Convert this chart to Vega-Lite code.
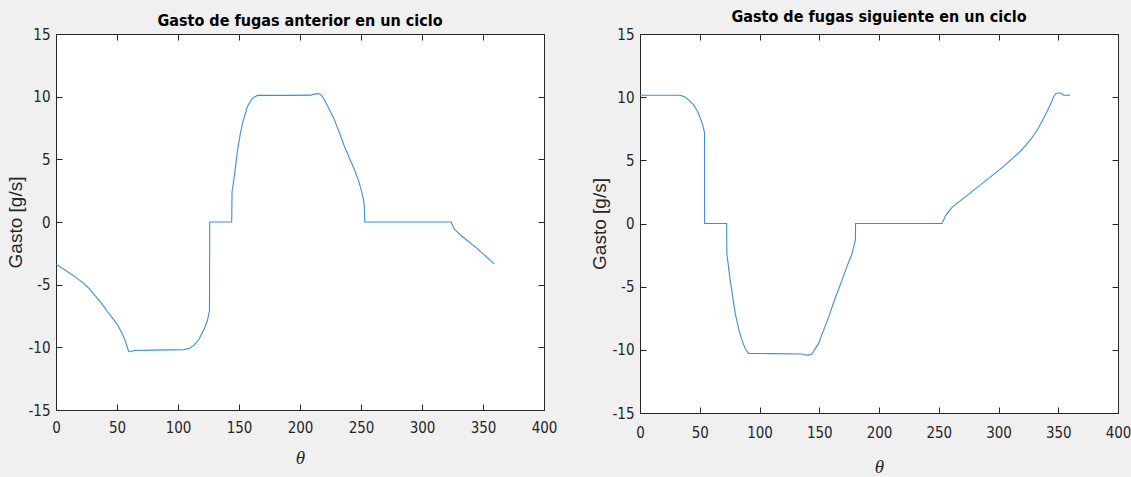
{
  "$schema": "https://vega.github.io/schema/vega-lite/v6.json",
  "background": "#f0f0f0",
  "padding": {"left": 6, "top": 8, "right": 0, "bottom": 20},
  "spacing": 32,
  "datasets": {
    "anterior": [
      {"theta": 0, "gasto": -3.36}, {"theta": 8, "gasto": -3.87}, {"theta": 16, "gasto": -4.4},
      {"theta": 23, "gasto": -4.92}, {"theta": 27, "gasto": -5.3}, {"theta": 31, "gasto": -5.75},
      {"theta": 37, "gasto": -6.45}, {"theta": 42, "gasto": -7.12},
      {"theta": 47, "gasto": -7.75}, {"theta": 50.5, "gasto": -8.22}, {"theta": 54, "gasto": -8.85},
      {"theta": 56, "gasto": -9.29}, {"theta": 58, "gasto": -9.85}, {"theta": 59.6, "gasto": -10.33},
      {"theta": 61, "gasto": -10.35}, {"theta": 64, "gasto": -10.25}, {"theta": 80, "gasto": -10.22},
      {"theta": 105, "gasto": -10.18}, {"theta": 110, "gasto": -10.05}, {"theta": 113.4, "gasto": -9.81},
      {"theta": 117, "gasto": -9.4}, {"theta": 121.6, "gasto": -8.49}, {"theta": 124, "gasto": -7.9},
      {"theta": 125.8, "gasto": -7.1}, {"theta": 126, "gasto": 0}, {"theta": 144, "gasto": 0},
      {"theta": 144.3, "gasto": 2.4}, {"theta": 146.2, "gasto": 3.68}, {"theta": 148.9, "gasto": 5.79},
      {"theta": 151, "gasto": 7.0}, {"theta": 153, "gasto": 7.91}, {"theta": 157, "gasto": 9.24},
      {"theta": 160, "gasto": 9.75}, {"theta": 162.5, "gasto": 9.98}, {"theta": 165.3, "gasto": 10.1},
      {"theta": 190, "gasto": 10.1}, {"theta": 209, "gasto": 10.12}, {"theta": 211.7, "gasto": 10.22},
      {"theta": 215.8, "gasto": 10.22}, {"theta": 218, "gasto": 10.05}, {"theta": 219.9, "gasto": 9.76},
      {"theta": 224, "gasto": 9.0}, {"theta": 228.1, "gasto": 8.17}, {"theta": 232, "gasto": 7.2},
      {"theta": 236.3, "gasto": 6.06}, {"theta": 240, "gasto": 5.2}, {"theta": 244.5, "gasto": 4.21},
      {"theta": 248, "gasto": 3.3}, {"theta": 250, "gasto": 2.63}, {"theta": 252, "gasto": 1.8},
      {"theta": 252.7, "gasto": 1.32}, {"theta": 253, "gasto": 0}, {"theta": 323.8, "gasto": 0},
      {"theta": 326.5, "gasto": -0.56}, {"theta": 332, "gasto": -1.08}, {"theta": 345.6, "gasto": -2.14},
      {"theta": 359.3, "gasto": -3.36}
    ],
    "siguiente": [
      {"theta": 0, "gasto": 10.15}, {"theta": 33.7, "gasto": 10.15}, {"theta": 38, "gasto": 10.0},
      {"theta": 44.8, "gasto": 9.41}, {"theta": 48, "gasto": 8.9}, {"theta": 50.4, "gasto": 8.36},
      {"theta": 52.5, "gasto": 7.8}, {"theta": 54, "gasto": 7.18}, {"theta": 54.1, "gasto": 0},
      {"theta": 72.5, "gasto": 0}, {"theta": 72.7, "gasto": -2.4}, {"theta": 75.5, "gasto": -4.5},
      {"theta": 79.7, "gasto": -7.13}, {"theta": 83, "gasto": -8.5}, {"theta": 85.3, "gasto": -9.23},
      {"theta": 88, "gasto": -9.9}, {"theta": 90.9, "gasto": -10.28}, {"theta": 110, "gasto": -10.3},
      {"theta": 135.5, "gasto": -10.33}, {"theta": 138.4, "gasto": -10.41}, {"theta": 141, "gasto": -10.42},
      {"theta": 143.9, "gasto": -10.33}, {"theta": 146, "gasto": -10.0}, {"theta": 149.5, "gasto": -9.49},
      {"theta": 153, "gasto": -8.6}, {"theta": 157.9, "gasto": -7.39}, {"theta": 163, "gasto": -6.0},
      {"theta": 169, "gasto": -4.5}, {"theta": 174, "gasto": -3.2}, {"theta": 177.4, "gasto": -2.4},
      {"theta": 179.5, "gasto": -1.6}, {"theta": 180.2, "gasto": -1.35}, {"theta": 180.4, "gasto": 0},
      {"theta": 252.8, "gasto": 0}, {"theta": 255.6, "gasto": 0.61}, {"theta": 261.1, "gasto": 1.28},
      {"theta": 275.1, "gasto": 2.32}, {"theta": 289.1, "gasto": 3.37}, {"theta": 303, "gasto": 4.42},
      {"theta": 317, "gasto": 5.6}, {"theta": 323, "gasto": 6.2}, {"theta": 328.1, "gasto": 6.79},
      {"theta": 333, "gasto": 7.5}, {"theta": 336.5, "gasto": 8.1}, {"theta": 340, "gasto": 8.75},
      {"theta": 343.5, "gasto": 9.41}, {"theta": 346, "gasto": 10.0}, {"theta": 347.7, "gasto": 10.28},
      {"theta": 350, "gasto": 10.33}, {"theta": 351.9, "gasto": 10.33}, {"theta": 354.7, "gasto": 10.15},
      {"theta": 360, "gasto": 10.15}
    ]
  },
  "hconcat": [
    {
      "width": 488,
      "height": 376,
      "title": {"text": "Gasto de fugas anterior en un ciclo", "offset": -2},
      "data": {"name": "anterior"},
      "resolve": {"axis": {"x": "independent", "y": "independent"}},
      "layer": [
        {
          "mark": {"type": "line", "color": "#3a90d4", "strokeWidth": 1.1},
          "encoding": {
            "x": {"field": "theta", "type": "quantitative", "scale": {"domain": [0, 400], "nice": false},
                  "axis": {"orient": "bottom", "values": [0, 50, 100, 150, 200, 250, 300, 350, 400], "title": "θ", "labelPadding": 16, "titlePadding": 13}},
            "y": {"field": "gasto", "type": "quantitative", "scale": {"domain": [-15, 15], "nice": false},
                  "axis": {"orient": "left", "values": [-15, -10, -5, 0, 5, 10, 15], "title": "Gasto [g/s]"}}
          }
        },
        {
          "mark": {"type": "line", "strokeOpacity": 0},
          "encoding": {
            "x": {"field": "theta", "type": "quantitative", "scale": {"domain": [0, 400], "nice": false},
                  "axis": {"orient": "top", "values": [0, 50, 100, 150, 200, 250, 300, 350, 400], "labels": false, "title": null}},
            "y": {"field": "gasto", "type": "quantitative", "scale": {"domain": [-15, 15], "nice": false},
                  "axis": {"orient": "right", "values": [-15, -10, -5, 0, 5, 10, 15], "labels": false, "title": null}}
          }
        }
      ]
    },
    {
      "width": 478,
      "height": 379,
      "title": {"text": "Gasto de fugas siguiente en un ciclo", "offset": 2},
      "data": {"name": "siguiente"},
      "resolve": {"axis": {"x": "independent", "y": "independent"}},
      "layer": [
        {
          "mark": {"type": "line", "color": "#3a90d4", "strokeWidth": 1.1},
          "encoding": {
            "x": {"field": "theta", "type": "quantitative", "scale": {"domain": [0, 400], "nice": false},
                  "axis": {"orient": "bottom", "values": [0, 50, 100, 150, 200, 250, 300, 350, 400], "title": "θ", "labelPadding": 18, "titlePadding": 17}},
            "y": {"field": "gasto", "type": "quantitative", "scale": {"domain": [-15, 15], "nice": false},
                  "axis": {"orient": "left", "values": [-15, -10, -5, 0, 5, 10, 15], "title": "Gasto [g/s]"}}
          }
        },
        {
          "mark": {"type": "line", "strokeOpacity": 0},
          "encoding": {
            "x": {"field": "theta", "type": "quantitative", "scale": {"domain": [0, 400], "nice": false},
                  "axis": {"orient": "top", "values": [0, 50, 100, 150, 200, 250, 300, 350, 400], "labels": false, "title": null}},
            "y": {"field": "gasto", "type": "quantitative", "scale": {"domain": [-15, 15], "nice": false},
                  "axis": {"orient": "right", "values": [-15, -10, -5, 0, 5, 10, 15], "labels": false, "title": null}}
          }
        }
      ]
    }
  ],
  "config": {
    "view": {"fill": "white", "stroke": "#262626", "strokeWidth": 1},
    "title": {"font": "DejaVu Sans Condensed, Liberation Sans, sans-serif", "fontWeight": "bold", "fontSize": 16, "color": "#000000", "anchor": "middle"},
    "axis": {
      "domain": false,
      "grid": false,
      "tickColor": "#262626",
      "tickWidth": 1,
      "tickSize": -6,
      "labelFont": "DejaVu Sans Condensed, Liberation Sans, sans-serif",
      "labelFontSize": 15,
      "labelColor": "#262626",
      "labelExpr": "datum.value < 0 ? '-' + abs(datum.value) : '' + datum.value",
      "labelFlush": false,
      "labelOverlap": false
    },
    "axisX": {
      "titleFont": "Liberation Serif",
      "titleFontStyle": "italic",
      "titleFontWeight": "normal",
      "titleFontSize": 19,
      "titleColor": "#262626"
    },
    "axisY": {
      "labelPadding": 12,
      "titleFont": "Liberation Sans",
      "titleFontWeight": "normal",
      "titleFontSize": 19,
      "titleColor": "#262626",
      "titlePadding": 2
    }
  }
}
